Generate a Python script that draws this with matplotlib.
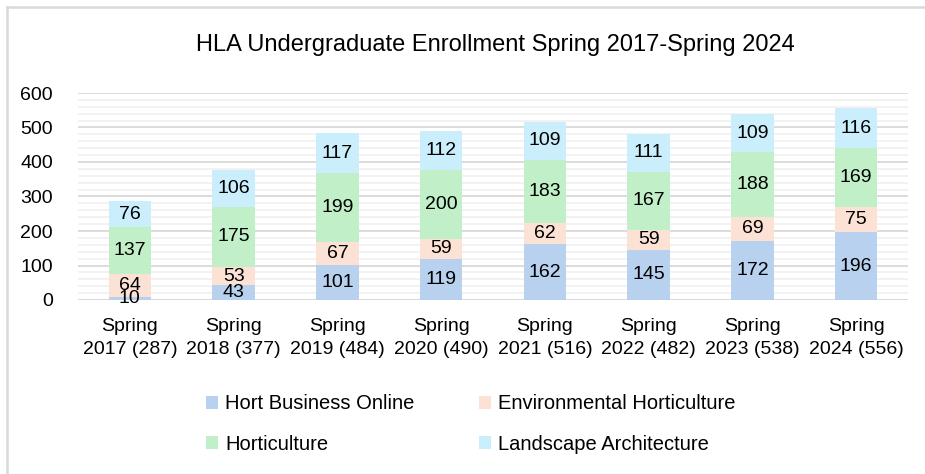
import matplotlib.pyplot as plt
import numpy as np
from matplotlib.ticker import MultipleLocator
from matplotlib.lines import Line2D

# DATA
years = ["2017", "2018", "2019", "2020", "2021", "2022", "2023", "2024"]
hort_business_online = [10, 43, 101, 119, 162, 145, 172, 196]
environmental_hort = [64, 53, 67, 59, 62, 59, 69, 75]
horticulture = [137, 175, 199, 200, 183, 167, 188, 169]
landscape_arch = [76, 106, 117, 112, 109, 111, 109, 116]
totals = [287, 377, 484, 490, 516, 482, 538, 556]

series = [
    ("Hort Business Online", hort_business_online, "#B7D1EE"),
    ("Environmental Horticulture", environmental_hort, "#FBE2D5"),
    ("Horticulture", horticulture, "#C1F0C8"),
    ("Landscape Architecture", landscape_arch, "#CAEEFB"),
]

plt.rcParams["font.family"] = ["Liberation Sans", "DejaVu Sans"]

fig = plt.figure(figsize=(9.25, 4.74), dpi=100)
ax = fig.add_axes([78 / 925, 1 - 300 / 474, (908 - 78) / 925, 207 / 474])

x = np.arange(len(years))
bottom = np.zeros(len(years))
handles = []
for name, vals, color in series:
    bars = ax.bar(x, vals, 0.41, bottom=bottom, color=color, label=name, zorder=3)
    ax.bar_label(bars, labels=[str(v) for v in vals], label_type="center",
                 fontsize=14, color="black", zorder=4)
    bottom += np.array(vals)
    handles.append(bars)

ax.set_xlim(-0.5, len(years) - 0.5)
ax.set_ylim(0, 600)
ax.yaxis.set_major_locator(MultipleLocator(100))
ax.yaxis.set_minor_locator(MultipleLocator(20))
ax.grid(axis="y", which="major", color="#D9D9D9", linewidth=1.3, zorder=0)
ax.grid(axis="y", which="minor", color="#F0F0F0", linewidth=1.2, zorder=0)
for s in ax.spines.values():
    s.set_visible(False)
ax.axhline(0, color="#D9D9D9", linewidth=1.3, zorder=2)

ax.set_xticks(x)
ax.set_xticklabels([f"Spring\n{y} ({t})" for y, t in zip(years, totals)],
                   fontsize=14, linespacing=1.45)
ax.tick_params(axis="both", which="both", length=0)
ax.tick_params(axis="x", pad=13)
ax.tick_params(axis="y", labelsize=14, pad=18)

fig.text(495 / 925, 1 - 45 / 474, "HLA Undergraduate Enrollment Spring 2017-Spring 2024",
         ha="center", va="center", fontsize=17)

# row-major legend order (matplotlib fills column first)
order = [0, 2, 1, 3]
fig.legend([handles[i] for i in order], [series[i][0] for i in order],
           loc="center", bbox_to_anchor=(471 / 925, 1 - 424 / 474), ncol=2,
           frameon=False, fontsize=14.5, handlelength=0.6, handleheight=0.6,
           handletextpad=0.35, columnspacing=3.2, labelspacing=1.05)

# chart border (left and top)
fig.add_artist(Line2D([6.5 / 925, 6.5 / 925], [0, 1 - 7 / 474], color="#D9D9D9",
                      linewidth=1.8, transform=fig.transFigure))
fig.add_artist(Line2D([6.5 / 925, 1], [1 - 7 / 474, 1 - 7 / 474], color="#D9D9D9",
                      linewidth=1.8, transform=fig.transFigure))

fig.savefig("out.png", dpi=100)
